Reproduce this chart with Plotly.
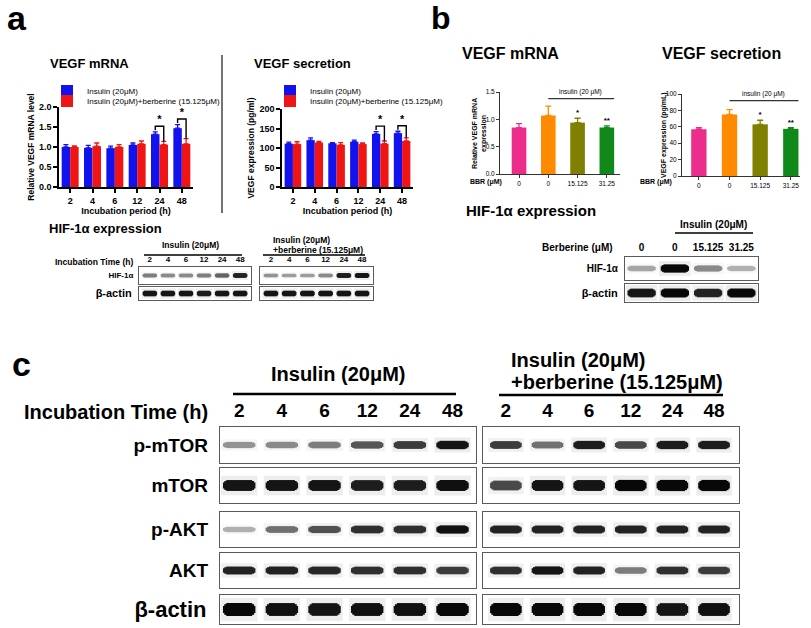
import plotly.graph_objects as go

W, H = 811, 628
FONT = 'Arial, Liberation Sans, sans-serif'
BLUE = '#1212EE'
RED = '#F01414'

# panel a - VEGF bar charts
hours = ['2', '4', '6', '12', '24', '48']
mrna_ins = [1.00, 0.98, 0.97, 1.05, 1.32, 1.47]
mrna_ins_err = [0.06, 0.06, 0.05, 0.05, 0.06, 0.09]
mrna_bbr = [1.00, 1.02, 1.00, 1.08, 1.06, 1.08]
mrna_bbr_err = [0.03, 0.08, 0.06, 0.07, 0.08, 0.13]
sec_ins = [111, 120, 112, 116, 136, 138]
sec_ins_err = [4, 6, 2, 4, 6, 5]
sec_bbr = [110, 114, 108, 110, 111, 118]
sec_bbr_err = [6, 3, 6, 3, 7, 8]
sig_hours = ['24', '48']

# panel b - dose response
bbr_doses = ['0', '0', '15.125', '31.25']
dose_colors = ['#EC2D8C', '#FF8A00', '#808000', '#11891A']
b_mrna = [0.85, 1.07, 0.94, 0.85]
b_mrna_err = [0.07, 0.17, 0.08, 0.03]
b_sec = [57, 75, 63, 57.5]
b_sec_err = [2, 6, 5, 1.5]
b_stars = ['', '', '*', '**']

# western blot band intensities (0 = nothing, 1 = saturated)
hif_a_ins = [0.55, 0.5, 0.5, 0.55, 0.65, 0.9]
actin_a_ins = [0.95, 0.95, 0.95, 0.92, 0.95, 0.95]
hif_a_bbr = [0.45, 0.4, 0.4, 0.5, 0.92, 0.95]
actin_a_bbr = [0.95, 0.95, 0.95, 0.95, 0.95, 0.95]
hif_b = [0.35, 1.0, 0.5, 0.3]
actin_b = [0.95, 1.0, 0.9, 1.0]

c_proteins = ['p-mTOR', 'mTOR', 'p-AKT', 'AKT', 'β-actin']
pmtor_ins = [0.45, 0.5, 0.55, 0.7, 0.8, 0.95]
mtor_ins = [0.95, 0.95, 0.95, 0.92, 0.92, 0.97]
pakt_ins = [0.3, 0.6, 0.72, 0.85, 0.85, 0.97]
akt_ins = [0.9, 0.9, 0.88, 0.85, 0.85, 0.8]
actin_c_ins = [1.0, 0.97, 0.95, 0.97, 0.97, 1.0]
pmtor_bbr = [0.8, 0.6, 0.92, 0.75, 0.92, 0.92]
mtor_bbr = [0.75, 0.95, 0.95, 1.0, 1.0, 1.0]
pakt_bbr = [0.9, 0.9, 0.9, 0.9, 0.9, 0.9]
akt_bbr = [0.85, 0.95, 0.9, 0.55, 0.85, 0.8]
actin_c_bbr = [1.0, 1.0, 1.0, 1.0, 0.95, 0.97]

GREYS = [[0, '#e8e8e8'], [0.5, '#8a8a8a'], [1, '#080808']]

fig = go.Figure()
axis_no = [0]
notes = []
shapes = []


def new_axes(x0, x1, top, bottom, xopts, yopts):
    axis_no[0] += 1
    n = axis_no[0]
    sx = '' if n == 1 else str(n)
    fig.update_layout(**{
        'xaxis' + sx: dict(domain=[x0 / W, x1 / W], anchor='y' + sx, showgrid=False,
                           zeroline=False, fixedrange=True, automargin=False, **xopts),
        'yaxis' + sx: dict(domain=[1 - bottom / H, 1 - top / H], anchor='x' + sx,
                           showgrid=False, zeroline=False, fixedrange=True, automargin=False,
                           **yopts),
    })
    return 'x' + sx, 'y' + sx


def note(text, x, y, size, anchor='center', bold=True, angle=0):
    notes.append(dict(text=text, x=x / W, y=1 - y / H, xref='paper', yref='paper',
                      xanchor=anchor, yanchor='middle', showarrow=False, textangle=angle,
                      font=dict(size=size, family=FONT, color='black',
                                weight='bold' if bold else 'normal')))


def hline(x0, x1, y, width=1.5, color='black'):
    shapes.append(dict(type='line', xref='paper', yref='paper', x0=x0 / W, x1=x1 / W,
                       y0=1 - y / H, y1=1 - y / H, line=dict(color=color, width=width)))


def group_chart(box, ins, ins_err, bbr, bbr_err, ymax, dtick, fmt, ytitle, leg_names):
    idx = list(range(len(hours)))
    axis_line = dict(showline=True, linecolor='black', linewidth=1.5, ticks='outside',
                     ticklen=4, tickwidth=1.5, tickcolor='black',
                     tickfont=dict(size=9, family=FONT, weight='bold'))
    xa, ya = new_axes(*box,
                      dict(range=[-0.5, 5.5], tickvals=idx, ticktext=hours,
                           title=dict(text='Incubation period (h)', standoff=2,
                                      font=dict(size=9, family=FONT, weight='bold')),
                           **axis_line),
                      dict(range=[0, ymax], dtick=dtick, tickformat=fmt,
                           title=dict(text=ytitle, standoff=3,
                                      font=dict(size=8.5, family=FONT, weight='bold')),
                           **axis_line))
    series = [(ins, ins_err, BLUE, 'Insulin (20μM)', -0.38),
              (bbr, bbr_err, RED, 'Insulin (20μM)+berberine (15.125μM)', 0.0)]
    for (vals, errs, color, name, off), leg in zip(series, leg_names):
        fig.add_trace(go.Bar(x=idx, y=vals, width=0.38, offset=off, name=name,
                             marker=dict(color=color, line_width=0), legend=leg,
                             error_y=dict(type='data', array=errs, arrayminus=[0] * len(errs),
                                          symmetric=False, color=color, thickness=1.3, width=2.5),
                             xaxis=xa, yaxis=ya, hoverinfo='skip'))
    for h in sig_hours:
        i = hours.index(h)
        blue_top = ins[i] + ins_err[i]
        red_top = bbr[i] + bbr_err[i]
        top = blue_top + 0.07 * ymax
        fig.add_trace(go.Scatter(x=[i - 0.19, i - 0.19, i + 0.19, i + 0.19],
                                 y=[blue_top + 0.02 * ymax, top, top, red_top],
                                 mode='lines', line=dict(color='black', width=1.4),
                                 showlegend=False, hoverinfo='skip', xaxis=xa, yaxis=ya))
        fig.add_trace(go.Scatter(x=[i], y=[top], mode='text', text=['*'],
                                 textposition='top center',
                                 textfont=dict(size=11, family=FONT, weight='bold'),
                                 showlegend=False, hoverinfo='skip', xaxis=xa, yaxis=ya))


def dose_chart(box, xr, vals, errs, ymax, dtick, fmt):
    idx = list(range(len(bbr_doses)))
    axis_line = dict(showline=True, linecolor='#333', linewidth=1, ticks='outside',
                     ticklen=3, tickwidth=1, tickcolor='#333',
                     tickfont=dict(size=6.5, family=FONT))
    xa, ya = new_axes(*box, dict(range=xr, tickvals=idx, ticktext=bbr_doses, **axis_line),
                      dict(range=[0, ymax], dtick=dtick, tickformat=fmt, **axis_line))
    for i in idx:
        fig.add_trace(go.Bar(x=[i], y=[vals[i]], width=0.5, offset=-0.25,
                             marker=dict(color=dose_colors[i], line_width=0), showlegend=False,
                             error_y=dict(type='data', array=[errs[i]], arrayminus=[0],
                                          symmetric=False, color=dose_colors[i],
                                          thickness=1.3, width=3),
                             xaxis=xa, yaxis=ya, hoverinfo='skip'))
    fig.add_trace(go.Scatter(x=idx, y=[v + e + 0.01 * ymax for v, e in zip(vals, errs)],
                             mode='text', text=b_stars, textposition='top center',
                             textfont=dict(size=8, family=FONT, weight='bold'),
                             showlegend=False, hoverinfo='skip', xaxis=xa, yaxis=ya))
    # "insulin (20 uM)" bar over the insulin-treated lanes
    shapes.append(dict(type='line', xref=xa, yref=ya + ' domain', x0=1, x1=3.25,
                       y0=0.92, y1=0.92, line=dict(color='#333', width=1.3)))
    notes.append(dict(text='insulin (20 μM)', xref=xa, yref=ya + ' domain', x=2.1, y=0.93,
                      yanchor='bottom', showarrow=False, font=dict(size=6.5, family=FONT)))


# band outline built from stacked layers: (width factor, thickness factor, opacity)
BAND_LAYERS = [(1.12, 1.8, 0.07), (1.0, 0.55, 1.0), (0.92, 0.82, 1.0), (0.8, 1.0, 1.0)]


def blot(x0, x1, rows, lanes, xr, lane_labels, lane_size, band_w):
    for k, (top, bottom, label, lsize, vals, thick) in enumerate(rows):
        frame = dict(showline=True, mirror=True, linecolor='#5a5a5a', linewidth=1.2, ticks='')
        xopts = dict(range=xr, **frame)
        if k == 0 and lane_labels:
            xopts.update(side='top', tickvals=lanes, ticktext=lane_labels, ticklabelstandoff=1,
                         tickfont=dict(size=lane_size, family=FONT, weight='bold'))
        else:
            xopts['showticklabels'] = False
        yopts = dict(range=[0, 1], **frame)
        if label:
            yopts.update(tickvals=[0.5], ticktext=[label], ticklabelstandoff=int(lsize * 0.4),
                         tickfont=dict(size=lsize, family=FONT, weight='bold'))
        else:
            yopts['showticklabels'] = False
        xa, ya = new_axes(x0, x1, top, bottom, xopts, yopts)
        for wmul, tmul, op in BAND_LAYERS:
            t = [thick * (0.5 + 0.5 * v) * tmul for v in vals]
            fig.add_trace(go.Bar(x=lanes, y=t, base=[0.5 - ti / 2 for ti in t],
                                 width=band_w * wmul, offset=-band_w * wmul / 2, opacity=op,
                                 marker=dict(color=vals, colorscale=GREYS, cmin=0, cmax=1,
                                             line_width=0),
                                 showlegend=False, hoverinfo='skip', xaxis=xa, yaxis=ya))


# ---- panel a ----
group_chart((59, 193, 107, 187), mrna_ins, mrna_ins_err, mrna_bbr, mrna_bbr_err,
            2.0, 0.5, '.1f', 'Relative VEGF mRNA level', ['legend', 'legend2'])
group_chart((282, 413, 109, 187), sec_ins, sec_ins_err, sec_bbr, sec_bbr_err,
            200, 50, 'd', 'VEGF expression (pg/ml)', ['legend3', 'legend4'])

six = list(range(6))
blot(139, 251, [(267, 284, 'HIF-1α', 8, hif_a_ins, 0.3),
                (287, 300, 'β-actin', 11, actin_a_ins, 0.45)],
     six, [-0.6, 5.6], hours, 8, 0.8)
blot(260, 373, [(267, 284, '', 8, hif_a_bbr, 0.3),
                (287, 300, '', 11, actin_a_bbr, 0.45)],
     six, [-0.6, 5.6], hours, 8, 0.8)

note('a', 17, 18, 34)
note('VEGF mRNA', 89, 64, 13)
note('VEGF secretion', 302, 64, 13)
note('HIF-1α expression', 105, 229, 13)
note('Insulin (20μM)', 190, 245, 8.5)
hline(144, 242, 255, 1.5)
note('Insulin (20μM)', 271, 240, 8.5, 'left')
note('+berberine (15.125μM)', 271, 250, 8.5, 'left')
hline(263, 365, 255, 1.5)
note('Incubation Time (h)', 135, 262, 8.5, 'right')
shapes.append(dict(type='line', xref='paper', yref='paper', x0=222 / W, x1=222 / W,
                   y0=1 - 213 / H, y1=1 - 55 / H, line=dict(color='#444', width=1.5)))

# ---- panel b ----
dose_chart((500, 620, 92, 174), [-0.65, 3.45], b_mrna, b_mrna_err, 1.5, 0.5, '.1f')
dose_chart((682, 800, 94, 176), [-0.55, 3.3], b_sec, b_sec_err, 100, 20, 'd')
note('b', 441, 18, 32)
note('VEGF mRNA', 510, 54, 16)
note('VEGF secretion', 721, 54, 16)
note('Relative VEGF mRNA<br>expression', 479, 133, 7, angle=-90)
note('VEGF expression (pg/mL)', 664, 135, 7, angle=-90)
note('BBR (μM)', 486, 182, 7)
note('BBR (μM)', 656, 182, 7)

blot(625, 758, [(257, 280, 'HIF-1α', 10, hif_b, 0.36),
                (284, 302, 'β-actin', 11, actin_b, 0.5)],
     list(range(4)), [-0.5, 3.5], bbr_doses, 10, 0.85)
note('HIF-1α expression', 531, 210, 15)
note('Insulin (20μM)', 713, 225, 10)
hline(675, 753, 233, 1.5)
note('Berberine (μM)', 615, 247, 10, 'right')

# ---- panel c ----
c_rows = [(427, 463), (468, 503), (512, 547), (553, 588), (595, 624)]
c_thick = [0.24, 0.32, 0.24, 0.24, 0.45]
c_sizes = [19, 19, 19, 19, 22]
ins_sets = [pmtor_ins, mtor_ins, pakt_ins, akt_ins, actin_c_ins]
bbr_sets = [pmtor_bbr, mtor_bbr, pakt_bbr, akt_bbr, actin_c_bbr]
blot(220, 476, [(r[0], r[1], p, s, v, t) for r, p, s, v, t in
                zip(c_rows, c_proteins, c_sizes, ins_sets, c_thick)],
     six, [-0.45, 5.55], hours, 19, 0.76)
blot(483, 739, [(r[0], r[1], '', s, v, t) for r, s, v, t in
                zip(c_rows, c_sizes, bbr_sets, c_thick)],
     six, [-0.55, 5.6], hours, 19, 0.76)
note('c', 21, 364, 34)
note('Insulin (20μM)', 338, 374, 20)
hline(233, 456, 394, 2.5)
note('Insulin (20μM)', 509, 360, 20, 'left')
note('+berberine (15.125μM)', 509, 382, 20, 'left')
hline(499, 723, 395, 2.5)
note('Incubation Time (h)', 210, 412, 20, 'right')

legend_style = dict(xanchor='left', yanchor='middle', font=dict(size=8, family=FONT),
                    itemwidth=30, tracegroupgap=0, bgcolor='rgba(0,0,0,0)',
                    borderwidth=0)
fig.update_layout(
    width=W, height=H, margin=dict(l=0, r=0, t=0, b=0, autoexpand=False),
    paper_bgcolor='white', plot_bgcolor='white',
    font=dict(family=FONT, color='black'),
    barmode='overlay', hovermode=False,
    legend=dict(x=47 / W, y=1 - 91 / H, **legend_style),
    legend2=dict(x=47 / W, y=1 - 101 / H, **legend_style),
    legend3=dict(x=270 / W, y=1 - 91 / H, **legend_style),
    legend4=dict(x=270 / W, y=1 - 101 / H, **legend_style),
    annotations=notes, shapes=shapes,
)

fig.write_html("out.html", config={'displayModeBar': False},
               post_script="document.body.style.margin = '0';")
